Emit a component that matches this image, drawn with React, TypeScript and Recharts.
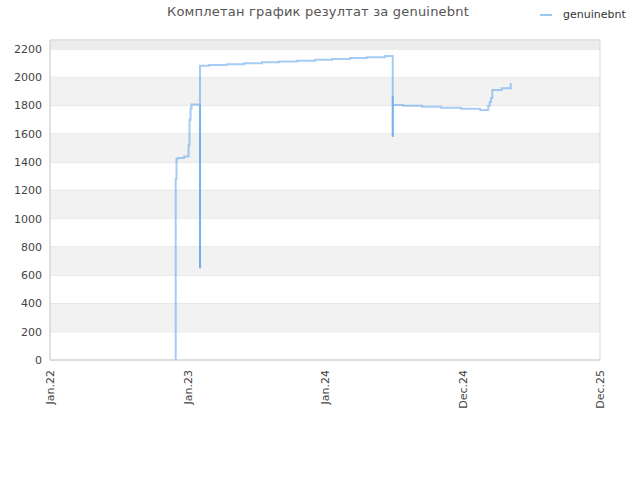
import * as React from "react";
import {
  CartesianGrid,
  Line,
  LineChart,
  ReferenceArea,
  XAxis,
  YAxis,
} from "recharts";

// x values are months since Jan 2022, y values are the rating
const MONTHS = [
  10.74, 10.74, 10.81, 10.9, 11.45, 11.82, 11.84, 11.92, 12.01, 12.09,
  12.82, 12.82, 13.59, 15.13, 16.58, 18.12, 19.57, 21.11, 22.65, 24.1,
  25.64, 27.09, 28.63, 29.29, 29.29, 29.29, 30.17, 31.79, 33.41, 35.12,
  36.75, 37.45, 37.57, 37.69, 37.8, 38.6, 39.37,
];
const SCORES = [
  0, 1280, 1420, 1430, 1440, 1445, 1520, 1700, 1780, 1808,
  650, 2082, 2087, 2092, 2099, 2106, 2112, 2118, 2124, 2130,
  2136, 2142, 2150, 1580, 1870, 1805, 1798, 1791, 1785, 1778,
  1768, 1797, 1825, 1853, 1910, 1922, 1960,
];

// return strokes that retrace the two drops (they show darker)
const RETRACE_MONTHS = [12.82, 12.82, 12.9, 29.29, 29.29];
const RETRACE_SCORES = [650, 1808, null, 1580, 1870];

const X_TICKS = [0, 11.75, 23.5, 35.25, 47];
const X_LABELS = ["Jan.22", "Jan.23", "Jan.24", "Dec.24", "Dec.25"];
const Y_TICKS = [0, 200, 400, 600, 800, 1000, 1200, 1400, 1600, 1800, 2000, 2200];
const Y_MAX = 2264;
const BANDS = [200, 600, 1000, 1400, 1800];

const FONT = "'DejaVu Sans', sans-serif";
const LINE_COLOR = "#4c9aec";

const data = MONTHS.map((m, i) => ({ m, score: SCORES[i] }));
const retrace = RETRACE_MONTHS.map((m, i) => ({ m, score: RETRACE_SCORES[i] }));

function XTick({ x, y, payload }: any) {
  const idx = X_TICKS.indexOf(payload.value);
  return (
    <text
      x={x}
      y={y + 2}
      dy={4}
      transform={`rotate(-90 ${x} ${y + 2})`}
      textAnchor="end"
      fontSize={11}
      fontFamily={FONT}
      fill="#444"
    >
      {X_LABELS[idx]}
    </text>
  );
}

export default function App() {
  return (
    <div
      style={{
        position: "absolute",
        left: 0,
        top: 0,
        width: 640,
        height: 480,
        background: "#fff",
        fontFamily: FONT,
      }}
    >
      <div
        style={{
          position: "absolute",
          left: 0,
          width: 636,
          top: 4,
          textAlign: "center",
          fontSize: 13,
          letterSpacing: 0.2,
          color: "#555",
        }}
      >
        Комплетан график резултат за genuinebnt
      </div>
      <div
        style={{
          position: "absolute",
          left: 540,
          top: 8,
          display: "flex",
          alignItems: "center",
          fontSize: 11,
          color: "#333",
        }}
      >
        <span
          style={{
            display: "inline-block",
            width: 12,
            height: 2,
            background: "#9cc8f3",
            marginRight: 11,
          }}
        />
        genuinebnt
      </div>
      <LineChart
        width={640}
        height={480}
        data={data}
        margin={{ top: 40, right: 40, left: 0, bottom: 60 }}
      >
        {BANDS.map((b) => (
          <ReferenceArea
            key={b}
            y1={b}
            y2={b + 200}
            fill="#f2f2f2"
            fillOpacity={1}
            stroke="none"
          />
        ))}
        <ReferenceArea y1={2200} y2={Y_MAX} fill="#ececec" fillOpacity={1} stroke="none" />
        <CartesianGrid vertical={false} stroke="#dcdcdc" />
        <XAxis
          dataKey="m"
          type="number"
          domain={[0, 47]}
          ticks={X_TICKS}
          interval={0}
          axisLine={{ stroke: "#d8d8d8" }}
          tickLine={false}
          tick={<XTick />}
          height={60}
        />
        <YAxis
          type="number"
          domain={[0, Y_MAX]}
          ticks={Y_TICKS}
          interval={0}
          width={50}
          axisLine={{ stroke: "#d8d8d8" }}
          tickLine={false}
          tick={{ fontSize: 11, fill: "#444", fontFamily: FONT }}
        />
        <ReferenceArea
          x1={0}
          x2={47}
          y1={0}
          y2={Y_MAX}
          fill="none"
          stroke="#d8d8d8"
          strokeOpacity={1}
        />
        <Line
          type="stepAfter"
          dataKey="score"
          stroke={LINE_COLOR}
          strokeOpacity={0.5}
          strokeWidth={2}
          dot={false}
          isAnimationActive={false}
        />
        <Line
          data={retrace}
          type="linear"
          dataKey="score"
          stroke={LINE_COLOR}
          strokeOpacity={0.5}
          strokeWidth={2}
          dot={false}
          connectNulls={false}
          isAnimationActive={false}
        />
      </LineChart>
    </div>
  );
}
